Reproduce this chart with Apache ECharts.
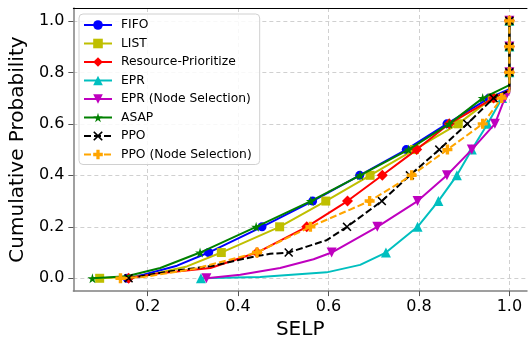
<!DOCTYPE html>
<html><head><meta charset="utf-8">
<script src="https://cdn.jsdelivr.net/npm/echarts@6/dist/echarts.min.js"></script>
<style>html,body{margin:0;padding:0;background:#fff}#c{width:530px;height:345px}</style>
</head><body><div id="c"></div>
<script>
// Tick labels
const xTicks = [0.2, 0.4, 0.6, 0.8, 1.0];
const yTicks = [0.0, 0.2, 0.4, 0.6, 0.8, 1.0];

// Series names
const names = ['FIFO','LIST','Resource-Prioritize','EPR','EPR (Node Selection)','ASAP','PPO','PPO (Node Selection)'];

// CDF points [SELP, cumulative probability]; points at multiples of 0.1 carry markers
const fifo = [[0.155,0],[0.191,0.014],[0.265,0.049],[0.335,0.1],[0.453,0.2],[0.565,0.3],[0.669,0.4],[0.772,0.5],[0.862,0.6],[0.955,0.7],[1.0,0.735],[1.0,0.8],[1.0,0.9],[1.0,1.0]];
const list = [[0.094,0],[0.191,0.008],[0.287,0.046],[0.363,0.1],[0.492,0.2],[0.594,0.3],[0.692,0.4],[0.79,0.5],[0.887,0.6],[0.962,0.7],[1.0,0.73],[1.0,0.8],[1.0,0.9],[1.0,1.0]];
const resPrio = [[0.158,0],[0.228,0.02],[0.339,0.04],[0.442,0.1],[0.552,0.2],[0.642,0.3],[0.719,0.4],[0.795,0.5],[0.867,0.6],[0.965,0.7],[1.0,0.73],[1.0,0.8],[1.0,0.9],[1.0,1.0]];
const epr = [[0.318,0],[0.449,0.005],[0.596,0.023],[0.670,0.052],[0.727,0.1],[0.797,0.2],[0.843,0.3],[0.884,0.4],[0.917,0.5],[0.952,0.6],[0.984,0.7],[1.0,0.725],[1.0,0.8],[1.0,0.9],[1.0,1.0]];
const eprNS = [[0.330,0],[0.405,0.014],[0.493,0.04],[0.567,0.074],[0.607,0.1],[0.708,0.2],[0.797,0.3],[0.862,0.4],[0.917,0.5],[0.968,0.6],[0.99,0.7],[1.0,0.72],[1.0,0.8],[1.0,0.9],[1.0,1.0]];
const asap = [[0.078,0],[0.154,0.008],[0.228,0.04],[0.316,0.1],[0.440,0.2],[0.561,0.3],[0.670,0.4],[0.777,0.5],[0.867,0.6],[0.941,0.7],[1.0,0.75],[1.0,0.8],[1.0,0.9],[1.0,1.0]];
const ppo = [[0.158,0],[0.250,0.027],[0.346,0.049],[0.434,0.084],[0.471,0.095],[0.512,0.1],[0.552,0.123],[0.596,0.148],[0.641,0.2],[0.718,0.3],[0.78,0.4],[0.845,0.5],[0.907,0.6],[0.965,0.7],[1.0,0.73],[1.0,0.8],[1.0,0.9],[1.0,1.0]];
const ppoNS = [[0.140,0],[0.191,0.005],[0.302,0.036],[0.442,0.1],[0.560,0.2],[0.691,0.3],[0.784,0.4],[0.863,0.5],[0.941,0.6],[0.983,0.7],[1.0,0.725],[1.0,0.8],[1.0,0.9],[1.0,1.0]];

const allData = [fifo, list, resPrio, epr, eprNS, asap, ppo, ppoNS];
const colors = ['#0000ff','#bfbf00','#ff0000','#00bfbf','#bf00bf','#008000','#000000','#ffa500'];

const STAR = 'path://M50,0 L61,35 L98,35 L68,57 L79,91 L50,70 L21,91 L32,57 L2,35 L39,35 Z';
const XMARK = 'path://M0,12 L12,0 L50,38 L88,0 L100,12 L62,50 L100,88 L88,100 L50,62 L12,100 L0,88 L38,50 Z';
const PLUS = 'path://M33,0 H67 V33 H100 V67 H67 V100 H33 V67 H0 V33 H33 Z';
const styles = [
  {symbol:'circle', size:9, rot:0, dash:'solid'},
  {symbol:'rect', size:9, rot:0, dash:'solid'},
  {symbol:'diamond', size:11, rot:0, dash:'solid'},
  {symbol:'triangle', size:10, rot:0, dash:'solid'},
  {symbol:'triangle', size:10, rot:180, dash:'solid'},
  {symbol:STAR, size:10, rot:0, dash:'solid'},
  {symbol:XMARK, size:9, rot:0, dash:[7,3]},
  {symbol:PLUS, size:10, rot:0, dash:[7,3]}
];

function isMarker(y){ return Math.abs(y*10 - Math.round(y*10)) < 1e-9; }

const series = allData.map((d,i)=>({
  name: names[i],
  type: 'line',
  data: d.map(p => isMarker(p[1]) ? {value:p} : {value:p, symbol:'none'}),
  symbol: styles[i].symbol,
  symbolSize: styles[i].size,
  symbolRotate: styles[i].rot,
  showSymbol: true,
  lineStyle: {color: colors[i], width: 2, type: styles[i].dash},
  itemStyle: {color: colors[i], borderWidth: 0},
  emphasis: {disabled: true},
  animation: false,
  z: 2 + i
}));

const font = 'DejaVu Sans';
const chart = echarts.init(document.getElementById('c'), null, {renderer:'canvas'});
chart.setOption({
  animation: false,
  textStyle: {fontFamily: font},
  grid: {left: 73, right: 3, top: 8, bottom: 50, containLabel: false},
  legend: {
    orient: 'vertical', left: 79, top: 14,
    padding: [5, 8, 4, 4],
    itemWidth: 28, itemHeight: 12, itemGap: 6.5,
    backgroundColor: 'rgba(255,255,255,0.85)',
    borderColor: '#d0d0d0', borderWidth: 1, borderRadius: 4,
    textStyle: {fontSize: 12.3, color: '#000', fontFamily: font, padding: [0,0,0,4]},
    data: names
  },
  xAxis: [{
    type: 'value', min: 0.0358, max: 1.039, position: 'bottom',
    name: 'SELP', nameLocation: 'middle', nameGap: 28,
    nameTextStyle: {fontSize: 20, color: '#000', fontFamily: font},
    axisLine: {show: true, onZero: false, lineStyle: {color: '#808080', width: 1.5}},
    axisTick: {show: true, length: 5, customValues: xTicks, lineStyle: {color: '#555'}},
    axisLabel: {customValues: xTicks, formatter: v => v.toFixed(1), fontSize: 16, color: '#000', margin: 8, fontFamily: font},
    splitLine: {show: true, lineStyle: {type: [4,3], color: '#d0d0d0', width: 1}}
  },{
    type: 'value', min: 0.0358, max: 1.039, position: 'top',
    axisLine: {show: true, onZero: false, lineStyle: {color: '#000', width: 1}},
    axisTick: {show: false}, axisLabel: {show: false}, splitLine: {show: false}
  }],
  yAxis: {
    type: 'value', min: -0.0498, max: 1.05,
    name: 'Cumulative Probability', nameLocation: 'middle', nameGap: 40,
    nameTextStyle: {fontSize: 20, color: '#000', fontFamily: font},
    axisLine: {show: true, onZero: false, lineStyle: {color: '#808080', width: 1.5}},
    axisTick: {show: true, length: 5, customValues: yTicks, lineStyle: {color: '#555'}},
    axisLabel: {customValues: yTicks, formatter: v => v.toFixed(1), fontSize: 16, color: '#000', margin: 9, fontFamily: font},
    splitLine: {show: true, lineStyle: {type: [4,3], color: '#d0d0d0', width: 1}}
  },
  series: series
});
</script>
</body></html>
